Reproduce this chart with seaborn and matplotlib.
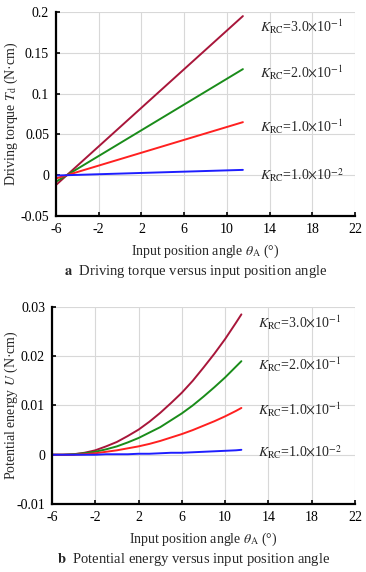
import numpy as np
import pandas as pd
import matplotlib
matplotlib.use("Agg")
import matplotlib.pyplot as plt
import seaborn as sns

# Data
k_labels = [r"$K_{\rm RC}$=3.0$\times$10$^{-1}$",
            r"$K_{\rm RC}$=2.0$\times$10$^{-1}$",
            r"$K_{\rm RC}$=1.0$\times$10$^{-1}$",
            r"$K_{\rm RC}$=1.0$\times$10$^{-2}$"]
colors = ["#a8163a", "#1a8c1a", "#ff2020", "#1e1eff"]

# (a) driving torque, straight lines
theta_a = [-6, 11.5]
torque_k30 = [-0.012, 0.195]
torque_k20 = [-0.008, 0.130]
torque_k10 = [-0.004, 0.065]
torque_k01 = [-0.0004, 0.0065]

# (b) potential energy
theta_b = [-6, -5, -4, -3, -2, -1, 0, 1, 2, 3, 4, 5, 6, 7, 8, 9, 10, 11, 11.5]
energy_k30 = [0, 0, 0.0001, 0.0004, 0.0009, 0.0017, 0.0026, 0.0038, 0.0051, 0.0067,
              0.0085, 0.0105, 0.0126, 0.0150, 0.0177, 0.0205, 0.0235, 0.0268, 0.0285]
energy_k20 = [0, 0, 0.0001, 0.0003, 0.0006, 0.0011, 0.0017, 0.0025, 0.0034, 0.0045,
              0.0056, 0.0070, 0.0084, 0.0100, 0.0118, 0.0137, 0.0157, 0.0179, 0.0190]
energy_k10 = [0, 0, 0, 0.0001, 0.0003, 0.0006, 0.0009, 0.0013, 0.0017, 0.0022,
              0.0028, 0.0035, 0.0042, 0.0050, 0.0059, 0.0068, 0.0078, 0.0089, 0.0095]
energy_k01 = [0, 0, 0, 0, 0, 0.0001, 0.0001, 0.0001, 0.0002, 0.0002,
              0.0003, 0.0004, 0.0004, 0.0005, 0.0006, 0.0007, 0.0008, 0.0009, 0.0010]

x_ticks = [-6, -2, 2, 6, 10, 14, 18, 22]
ya_ticks = [-0.05, 0, 0.05, 0.1, 0.15, 0.2]
ya_ticklabels = ["-0.05", "0", "0.05", "0.1", "0.15", "0.2"]
yb_ticks = [-0.01, 0, 0.01, 0.02, 0.03]
yb_ticklabels = ["-0.01", "0", "0.01", "0.02", "0.03"]

label_ya = [0.182, 0.126, 0.059, 0.0003]
label_yb = [0.0268, 0.0182, 0.0091, 0.0006]

sns.set_style("whitegrid")
plt.rcParams["font.family"] = ["Liberation Serif", "DejaVu Serif"]
plt.rcParams["mathtext.fontset"] = "stix"
plt.rcParams["font.size"] = 9.5


def style_axes(ax, yticks, yticklabels, ylim, ylabel, ylabel_x):
    ax.set_xlim(-6, 22)
    ax.set_ylim(*ylim)
    ax.set_xticks(x_ticks)
    ax.set_xticklabels([str(t) for t in x_ticks])
    ax.set_yticks(yticks)
    ax.set_yticklabels(yticklabels)
    ax.grid(True, color="#d8d8d8", linewidth=0.8)
    for s in ["top", "right"]:
        ax.spines[s].set_visible(False)
    for s in ["left", "bottom"]:
        ax.spines[s].set_color("black")
        ax.spines[s].set_linewidth(1.6)
    ax.tick_params(direction="in", length=3, width=1.2, colors="black",
                   labelsize=10, left=True, bottom=True, pad=5)
    ax.set_xlabel(r"Input position angle $\theta_{\rm A}$ (°)", fontsize=10, labelpad=5)
    ax.set_ylabel(ylabel, fontsize=10)
    ax.yaxis.set_label_coords(ylabel_x, 0.5)
    ax.set_facecolor("white")


fig = plt.figure(figsize=(3.66, 5.72), dpi=100)
ax1 = fig.add_axes([0.153, 0.6224, 0.817, 0.3566])
ax2 = fig.add_axes([0.142, 0.1189, 0.828, 0.3444])

for y, c in zip([torque_k30, torque_k20, torque_k10, torque_k01], colors):
    sns.lineplot(x=theta_a, y=y, color=c, linewidth=1.4, ax=ax1)
for y, c in zip([energy_k30, energy_k20, energy_k10, energy_k01], colors):
    sns.lineplot(x=theta_b, y=y, color=c, linewidth=1.4, ax=ax2)

for lbl, ya in zip(k_labels, label_ya):
    ax1.text(13.1, ya, lbl, fontsize=10, va="center", ha="left")
for lbl, yb in zip(k_labels, label_yb):
    ax2.text(13.0, yb, lbl, fontsize=10, va="center", ha="left")

style_axes(ax1, ya_ticks, ya_ticklabels, (-0.05, 0.2),
           r"Driving torque $T_{\rm d}$ (N·cm)", -0.12)
style_axes(ax2, yb_ticks, yb_ticklabels, (-0.01, 0.03),
           r"Potential energy $U$ (N·cm)", -0.104)

fig.text(0.535, 1 - 271 / 572, r"$\mathbf{a}$  Driving torque versus input position angle",
         ha="center", va="center", fontsize=10.5)
fig.text(0.53, 1 - 560 / 572, r"$\mathbf{b}$  Potential energy versus input position angle",
         ha="center", va="center", fontsize=10.5)

fig.savefig("out.png", dpi=100)
